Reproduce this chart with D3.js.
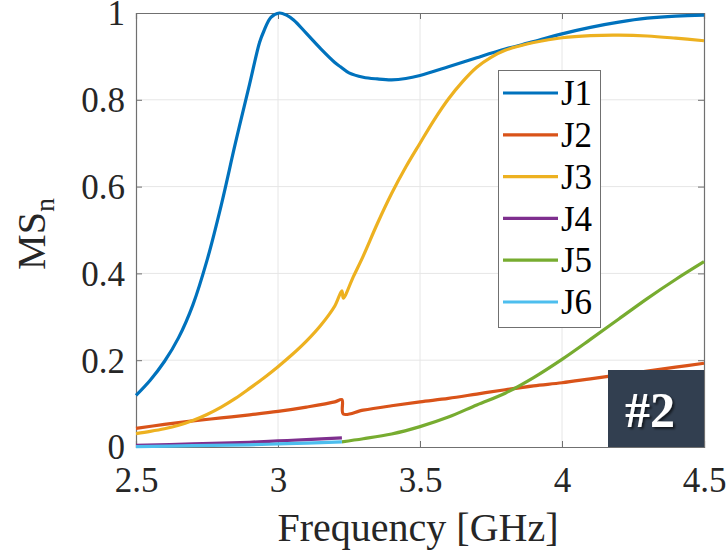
<!DOCTYPE html>
<html>
<head>
<meta charset="utf-8">
<script src="https://cdn.jsdelivr.net/npm/d3@7"></script>
<style>
  html, body { margin: 0; padding: 0; background: #fff; }
</style>
</head>
<body>
<svg id="chart" width="728" height="551"></svg>
<script>
// ---- data ----
const seriesNames = ["J1", "J2", "J3", "J4", "J5", "J6"];
const seriesColors = ["#0072BD", "#D95319", "#EDB120", "#7E2F8E", "#77AC30", "#4DBEEE"];

const j1Freq = [2.50, 2.55, 2.60, 2.65, 2.70, 2.75, 2.80, 2.85, 2.90, 2.935, 2.95, 2.975, 3.005, 3.03, 3.055, 3.10, 3.15, 3.20, 3.22, 3.25, 3.30, 3.35, 3.40, 3.45, 3.50, 3.60, 3.70, 3.80, 3.90, 4.00, 4.10, 4.20, 4.30, 4.40, 4.50];
const j1Vals = [0.119, 0.154, 0.197, 0.252, 0.327, 0.430, 0.557, 0.700, 0.836, 0.932, 0.958, 0.990, 1.000, 0.995, 0.984, 0.953, 0.918, 0.886, 0.876, 0.862, 0.852, 0.848, 0.846, 0.849, 0.856, 0.876, 0.897, 0.917, 0.934, 0.952, 0.967, 0.979, 0.988, 0.993, 0.995];

const j2Freq = [2.50, 2.60, 2.70, 2.80, 2.90, 3.00, 3.10, 3.20, 3.225, 3.23, 3.30, 3.40, 3.50, 3.60, 3.70, 3.80, 3.90, 4.00, 4.10, 4.20, 4.30, 4.40, 4.50];
const j2Vals = [0.043, 0.052, 0.060, 0.067, 0.074, 0.082, 0.092, 0.104, 0.109, 0.076, 0.085, 0.095, 0.104, 0.112, 0.122, 0.132, 0.141, 0.148, 0.157, 0.166, 0.175, 0.184, 0.193];

const j3Freq = [2.50, 2.55, 2.60, 2.65, 2.70, 2.75, 2.80, 2.85, 2.90, 2.95, 3.00, 3.05, 3.10, 3.15, 3.20, 3.225, 3.23, 3.265, 3.30, 3.35, 3.40, 3.45, 3.50, 3.55, 3.60, 3.65, 3.70, 3.75, 3.80, 3.85, 3.90, 4.00, 4.10, 4.20, 4.30, 4.40, 4.50];
const j3Vals = [0.031, 0.036, 0.042, 0.050, 0.061, 0.075, 0.092, 0.112, 0.135, 0.159, 0.185, 0.213, 0.244, 0.280, 0.325, 0.360, 0.343, 0.392, 0.440, 0.515, 0.584, 0.645, 0.700, 0.754, 0.802, 0.842, 0.875, 0.898, 0.914, 0.924, 0.932, 0.943, 0.948, 0.949, 0.947, 0.942, 0.936];

const j4Freq = [2.50, 2.70, 2.90, 3.00, 3.10, 3.225];
const j4Vals = [0.004, 0.007, 0.011, 0.014, 0.017, 0.021];

const j5Freq = [3.225, 3.30, 3.40, 3.50, 3.60, 3.70, 3.80, 3.90, 4.00, 4.10, 4.20, 4.30, 4.40, 4.50];
const j5Vals = [0.012, 0.019, 0.030, 0.047, 0.069, 0.097, 0.124, 0.160, 0.202, 0.248, 0.295, 0.342, 0.386, 0.427];

const j6Freq = [2.50, 2.70, 2.90, 3.00, 3.10, 3.225];
const j6Vals = [0.001, 0.003, 0.005, 0.007, 0.009, 0.012];

const xTicks = [2.5, 3, 3.5, 4, 4.5];
const xTickLabels = ["2.5", "3", "3.5", "4", "4.5"];
const yTicks = [0, 0.2, 0.4, 0.6, 0.8, 1];
const yTickLabels = ["0", "0.2", "0.4", "0.6", "0.8", "1"];

const xLabel = "Frequency [GHz]";
const badgeText = "#2";

const FONT_NAME = "Liberation Serif";

// ---- layout ----
const svg = d3.select("#chart");
const L = 136, R = 704, T = 13, B = 447;
const font = `"${FONT_NAME}"`;

const x = d3.scaleLinear().domain([2.5, 4.5]).range([L, R]);
const y = d3.scaleLinear().domain([0, 1]).range([B, T]);

// shadow filter for badge text
const defs = svg.append("defs");
const flt = defs.append("filter").attr("id", "shadow").attr("x", "-20%").attr("y", "-20%").attr("width", "150%").attr("height", "150%");
flt.append("feDropShadow").attr("dx", 2).attr("dy", 2).attr("stdDeviation", 1.2).attr("flood-color", "#000").attr("flood-opacity", 0.6);

// grid
const grid = svg.append("g");
grid.selectAll("line.gx").data(xTicks.slice(1, -1)).join("line")
  .attr("x1", d => x(d)).attr("x2", d => x(d)).attr("y1", T).attr("y2", B)
  .attr("stroke", "#e6e6e6").attr("stroke-width", 1);
grid.selectAll("line.gy").data(yTicks.slice(1, -1)).join("line")
  .attr("x1", L).attr("x2", R).attr("y1", d => y(d)).attr("y2", d => y(d))
  .attr("stroke", "#e6e6e6").attr("stroke-width", 1);

// axes (ticks inside)
const axisColor = "#707070";
const xAxisB = d3.axisBottom(x).tickValues(xTicks).tickSize(-6).tickFormat((d, i) => xTickLabels[i]);
const xAxisT = d3.axisTop(x).tickValues(xTicks).tickSize(-6).tickFormat("");
const yAxisL = d3.axisLeft(y).tickValues(yTicks).tickSize(-6).tickFormat((d, i) => yTickLabels[i]);
const yAxisR = d3.axisRight(y).tickValues(yTicks).tickSize(-6).tickFormat("");

function styleAxis(g) {
  g.attr("font-family", FONT_NAME).attr("font-size", 35);
  g.select(".domain").attr("stroke", axisColor).attr("stroke-width", 1.2);
  g.selectAll(".tick line").attr("stroke", axisColor).attr("stroke-width", 1);
  g.selectAll(".tick text").attr("fill", "#262626").style("font-family", font).style("font-size", "35px");
}
svg.append("g").attr("transform", `translate(0,${B})`).call(xAxisB).call(styleAxis)
  .call(g => g.selectAll(".tick text").attr("dy", "0").attr("y", 45));
svg.append("g").attr("transform", `translate(0,${T})`).call(xAxisT).call(styleAxis);
svg.append("g").attr("transform", `translate(${L},0)`).call(yAxisL).call(styleAxis)
  .call(g => g.selectAll(".tick text").attr("x", -11).attr("dy", "0.34em"));
svg.append("g").attr("transform", `translate(${R},0)`).call(yAxisR).call(styleAxis);

// series
const series = [
  [j1Freq, j1Vals], [j2Freq, j2Vals], [j3Freq, j3Vals],
  [j4Freq, j4Vals], [j5Freq, j5Vals], [j6Freq, j6Vals]
].map(([f, v], i) => ({ name: seriesNames[i], color: seriesColors[i], pts: f.map((fx, k) => [fx, v[k]]) }));

const line = d3.line().x(d => x(d[0])).y(d => y(d[1])).curve(d3.curveCatmullRom.alpha(0.5));
svg.append("g").selectAll("path").data(series).join("path")
  .attr("d", d => line(d.pts))
  .attr("fill", "none")
  .attr("stroke", d => d.color)
  .attr("stroke-width", 3.2)
  .attr("stroke-linejoin", "round")
  .attr("stroke-linecap", "butt");

// legend
const lg = svg.append("g");
lg.append("rect").attr("x", 498.5).attr("y", 70.5).attr("width", 102).attr("height", 257)
  .attr("fill", "#fff").attr("stroke", "#707070").attr("stroke-width", 1);
const legY = d3.scalePoint().domain(seriesNames).range([93, 302]);
const items = lg.selectAll("g.item").data(series).join("g").attr("class", "item");
items.append("line")
  .attr("x1", 503).attr("x2", 558)
  .attr("y1", d => legY(d.name)).attr("y2", d => legY(d.name))
  .attr("stroke", d => d.color).attr("stroke-width", 3.2);
items.append("text")
  .attr("x", 561).attr("y", d => legY(d.name)).attr("dy", "0.35em")
  .style("font-family", font).style("font-size", "35px").attr("fill", "#000")
  .text(d => d.name);

// axis labels
svg.append("text")
  .attr("x", (L + R) / 2 - 2).attr("y", 541)
  .attr("text-anchor", "middle")
  .style("font-family", font).style("font-size", "40px").attr("fill", "#262626")
  .text(xLabel);

const yl = svg.append("text")
  .attr("transform", `translate(45,${(T + B) / 2 + 4}) rotate(-90)`)
  .attr("text-anchor", "middle")
  .style("font-family", font).style("font-size", "40px").attr("fill", "#262626");
yl.append("tspan").text("MS");
yl.append("tspan").attr("dy", 9).style("font-size", "28px").text("n");

// badge
svg.append("rect").attr("x", 608).attr("y", 370).attr("width", 96).attr("height", 77).attr("fill", "#323f50");
svg.append("text")
  .attr("x", 650).attr("y", 427).attr("text-anchor", "middle")
  .style("font-family", font).style("font-weight", "bold").style("font-size", "50px")
  .attr("fill", "#fff").attr("filter", "url(#shadow)")
  .text(badgeText);
</script>
</body>
</html>
